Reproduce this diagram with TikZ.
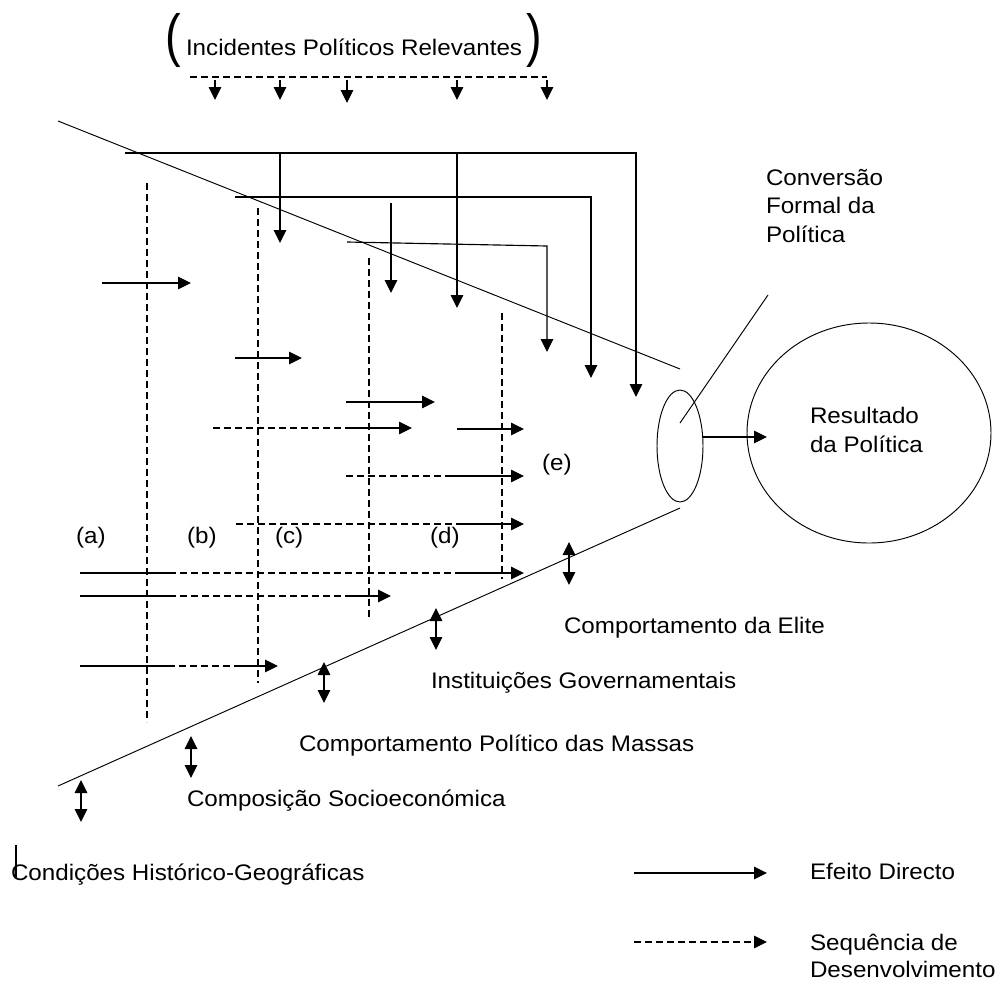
\documentclass[tikz,border=0pt]{standalone}
\usepackage{fontspec}
\setmainfont{Liberation Sans}[FakeStretch=1.075]
\usetikzlibrary{arrows.meta,shapes.geometric}
\begin{document}
\begin{tikzpicture}[x=1pt,y=-1pt,
  every node/.style={inner sep=0pt, outer sep=0pt, font=\fontsize{22.5}{27}\selectfont},
  lbl/.style={anchor=base west},
  bigparen/.style={anchor=base west, font=\fontsize{58}{58}\selectfont},
  ln/.style={line width=1.15pt},
  dsh/.style={line width=1.15pt, dash pattern=on 7pt off 4pt},
  tip/.style={-{Triangle[length=13pt,width=12.5pt]}},
  dtip/.style={{Triangle[length=13pt,width=12.5pt]}-{Triangle[length=13pt,width=12.5pt]}},
  diag/.style={line width=0.95pt},
  oval/.style={draw, ellipse, line width=0.95pt}]
\useasboundingbox (0,0) rectangle (996,980);

% ---- top: incidents
\node[lbl] (inc) at (186,55) {Incidentes Políticos Relevantes};
\node[bigparen] (lp) at (165,55) {\scalebox{0.75}[1]{(}};
\node[bigparen] (rp) at (526,55) {\scalebox{0.75}[1]{)}};
\coordinate (i0) at (190,77); \coordinate (i1) at (547,77);
\draw[dsh] (i0) -- (i1);
\foreach \x/\t [count=\k] in {215/100,280/100,347/103,457/100,547/100}{
  \coordinate (ia\k) at (\x,80); \coordinate (ib\k) at (\x,\t);
  \draw[ln,tip] (ia\k) -- (ib\k);
}

% ---- diagonals (funnel)
\coordinate (u0) at (58,121); \coordinate (u1) at (680,369);
\coordinate (l0) at (58,786); \coordinate (l1) at (680,508);
\draw[diag] (u0) -- (u1);
\draw[diag] (l0) -- (l1);

% ---- elbow paths from top
\coordinate (A0) at (125,153); \coordinate (A1) at (636,153); \coordinate (A2) at (636,397);
\draw[ln,tip] (A0) -- (A1) -- (A2);
\coordinate (B0) at (235,197); \coordinate (B1) at (591,197); \coordinate (B2) at (591,378);
\draw[ln,tip] (B0) -- (B1) -- (B2);
\coordinate (C0) at (347,242); \coordinate (C1) at (547,246); \coordinate (C2) at (547,352);
\draw[ln,tip] (C0) -- (C1) -- (C2);
\coordinate (D1a) at (280,153); \coordinate (D1b) at (280,243);
\draw[ln,tip] (D1a) -- (D1b);
\coordinate (D2a) at (457,153); \coordinate (D2b) at (457,308);
\draw[ln,tip] (D2a) -- (D2b);
\coordinate (D3a) at (391,203); \coordinate (D3b) at (391,293);
\draw[ln,tip] (D3a) -- (D3b);

% ---- vertical dashed stages
\coordinate (va0) at (147,183); \coordinate (va1) at (147,722);
\coordinate (vb0) at (258,208); \coordinate (vb1) at (258,683);
\coordinate (vc0) at (369,258); \coordinate (vc1) at (369,617);
\coordinate (vd0) at (502,313); \coordinate (vd1) at (502,579);
\draw[dsh] (va0) -- (va1);
\draw[dsh] (vb0) -- (vb1);
\draw[dsh] (vc0) -- (vc1);
\draw[dsh] (vd0) -- (vd1);

% ---- horizontal effects
\coordinate (h1a) at (102,283); \coordinate (h1b) at (191,283);
\draw[ln,tip] (h1a) -- (h1b);
\coordinate (h2a) at (235,358); \coordinate (h2b) at (302,358);
\draw[ln,tip] (h2a) -- (h2b);
\coordinate (h3a) at (346,402); \coordinate (h3b) at (435,402);
\draw[ln,tip] (h3a) -- (h3b);
\coordinate (h4a) at (213,428); \coordinate (h4b) at (346,428); \coordinate (h4c) at (412,428);
\draw[dsh] (h4a) -- (h4b); \draw[ln,tip] (h4b) -- (h4c);
\coordinate (h5a) at (457,429); \coordinate (h5b) at (524,429);
\draw[ln,tip] (h5a) -- (h5b);
\coordinate (h6a) at (346,476); \coordinate (h6b) at (452,476); \coordinate (h6c) at (524,476);
\draw[dsh] (h6a) -- (h6b); \draw[ln,tip] (h6b) -- (h6c);
\coordinate (h7a) at (236,524); \coordinate (h7b) at (457,524); \coordinate (h7c) at (524,524);
\draw[dsh] (h7a) -- (h7b); \draw[ln,tip] (h7b) -- (h7c);
\coordinate (h8a) at (80,573); \coordinate (h8b) at (169,573); \coordinate (h8c) at (457,573); \coordinate (h8d) at (524,573);
\draw[ln] (h8a) -- (h8b); \draw[dsh] (h8b) -- (h8c); \draw[ln,tip] (h8c) -- (h8d);
\coordinate (h9a) at (80,596); \coordinate (h9b) at (169,596); \coordinate (h9c) at (346,596); \coordinate (h9d) at (391,596);
\draw[ln] (h9a) -- (h9b); \draw[dsh] (h9b) -- (h9c); \draw[ln,tip] (h9c) -- (h9d);
\coordinate (h10a) at (80,666); \coordinate (h10b) at (168,666); \coordinate (h10c) at (236,666); \coordinate (h10d) at (278,666);
\draw[ln] (h10a) -- (h10b); \draw[dsh] (h10b) -- (h10c); \draw[ln,tip] (h10c) -- (h10d);

% ---- stage labels
\node[lbl] (la) at (76,543) {(a)};
\node[lbl] (lb) at (187,543) {(b)};
\node[lbl] (lc) at (275,543) {(c)};
\node[lbl] (ld) at (430,543) {(d)};
\node[lbl] (le) at (542,470) {(e)};

% ---- double arrows across the lower boundary
\foreach \x/\a/\b [count=\k] in {569/542/585,436/608/650,324/662/703,191/736/778,81/780/822}{
  \coordinate (da\k) at (\x,\a); \coordinate (db\k) at (\x,\b);
  \draw[ln,dtip] (da\k) -- (db\k);
}

% ---- level labels
\node[lbl] (elite) at (564,633) {Comportamento da Elite};
\node[lbl] (inst) at (431,688) {Instituições Governamentais};
\node[lbl] (mass) at (299,751) {Comportamento Político das Massas};
\node[lbl] (socio) at (187,806) {Composição Socioeconómica};
\node[lbl] (hist) at (11,880) {Condições Histórico-Geográficas};
\coordinate (bar0) at (16,845); \coordinate (bar1) at (16,878);
\draw[line width=1.5pt] (bar0) -- (bar1);

% ---- conversion and outcome
\node[oval, minimum width=46pt, minimum height=112pt] (conv) at (680,446) {};
\node[oval, minimum width=244pt, minimum height=220pt] (res) at (869,433) {};
\coordinate (ct) at (767,437);
\draw[ln,tip] (conv.east |- ct) -- (ct);
\node[lbl] (cv1) at (766,185) {Conversão};
\node[lbl] (cv2) at (766,213) {Formal da};
\node[lbl] (cv3) at (766,242) {Política};
\coordinate (lead0) at (768,295); \coordinate (lead1) at (680,423);
\draw[diag] (lead0) -- (lead1);
\node[lbl] (r1) at (810,423) {Resultado};
\node[lbl] (r2) at (810,452) {da Política};

% ---- legend
\coordinate (g1a) at (634,873); \coordinate (g1b) at (767,873);
\draw[ln,tip] (g1a) -- (g1b);
\node[lbl] (g1t) at (810,879) {Efeito Directo};
\coordinate (g2a) at (634,942); \coordinate (g2b) at (767,942);
\draw[dsh,tip] (g2a) -- (g2b);
\node[lbl] (g2t) at (810,950) {Sequência de};
\node[lbl] (g2u) at (810,977) {Desenvolvimento};
\end{tikzpicture}
\end{document}
